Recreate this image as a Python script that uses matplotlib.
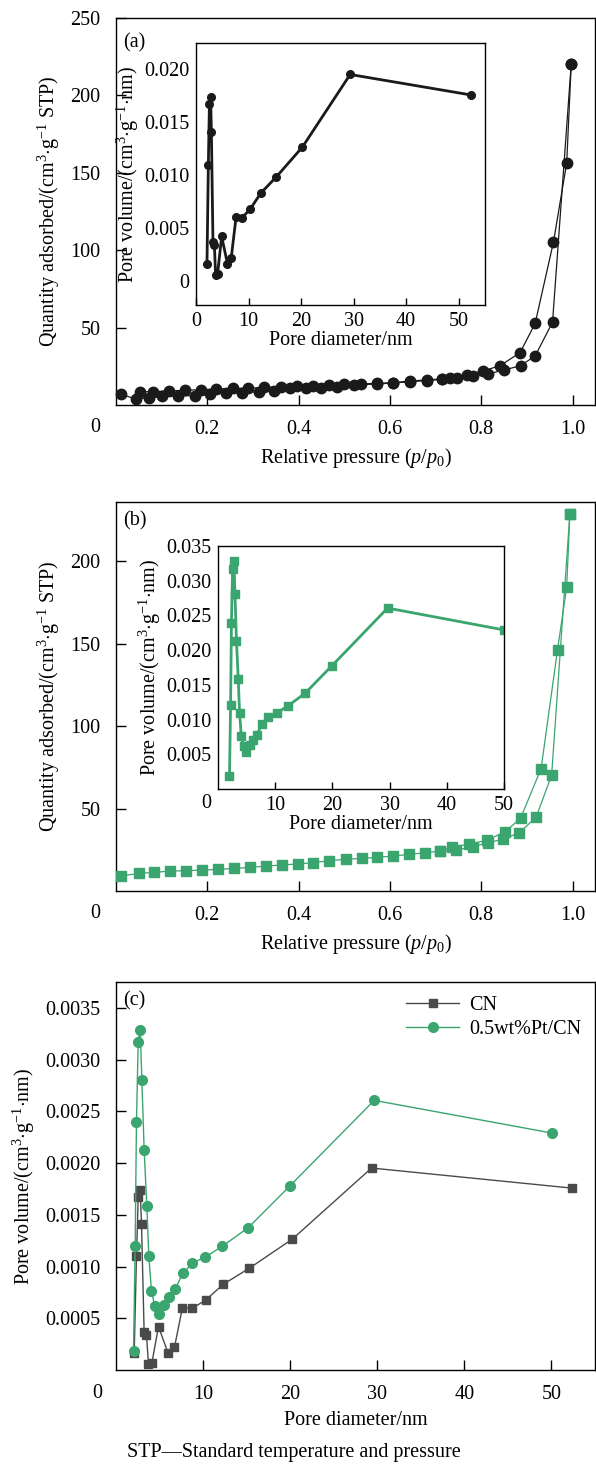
import matplotlib
matplotlib.use('Agg')
import matplotlib.pyplot as plt

plt.rcParams['font.family'] = ['Liberation Serif', 'DejaVu Serif']
plt.rcParams['mathtext.fontset'] = 'custom'
plt.rcParams['mathtext.rm'] = 'Liberation Serif'
plt.rcParams['mathtext.it'] = 'Liberation Serif:italic'
plt.rcParams['axes.linewidth'] = 1.0

GREEN = '#3aa56e'
BLACK = '#1a1a1a'
GREY = '#4a4a4a'

# (a) CN isotherm
a_ads_p = [0.010, 0.044, 0.073, 0.101, 0.135, 0.172, 0.206, 0.241, 0.277, 0.313, 0.346, 0.381,
           0.416, 0.450, 0.485, 0.521, 0.571, 0.607, 0.644, 0.680, 0.713, 0.746, 0.781, 0.815,
           0.850, 0.886, 0.918, 0.956, 0.997]
a_ads_q = [6.9, 3.9, 4.7, 5.6, 6.0, 6.0, 6.9, 7.6, 8.0, 8.6, 9.3, 10.8,
           10.8, 11.2, 11.8, 12.9, 13.6, 14.2, 15.0, 15.8, 16.5, 17.5, 18.8, 20.1,
           22.6, 25.4, 31.7, 53.5, 220.6]
a_des_p = [0.997, 0.987, 0.958, 0.918, 0.885, 0.841, 0.804, 0.768, 0.731, 0.713, 0.680, 0.644,
           0.607, 0.571, 0.536, 0.500, 0.466, 0.431, 0.396, 0.361, 0.325, 0.290, 0.256, 0.220,
           0.186, 0.151, 0.116, 0.080, 0.053]
a_des_q = [220.6, 156.3, 105.2, 52.8, 33.8, 25.4, 22.0, 19.4, 17.7, 16.8, 16.2, 15.5,
           14.4, 14.0, 13.6, 13.4, 12.9, 12.5, 12.3, 11.8, 11.4, 10.8, 10.8, 10.3,
           9.9, 9.5, 9.1, 8.6, 8.6]

# (b) 0.5wt%Pt/CN isotherm
b_ads_p = [0.010, 0.051, 0.084, 0.118, 0.153, 0.189, 0.224, 0.259, 0.293, 0.328, 0.363, 0.399,
           0.432, 0.467, 0.503, 0.539, 0.572, 0.607, 0.642, 0.677, 0.710, 0.745, 0.781, 0.815,
           0.848, 0.883, 0.920, 0.954, 0.994]
b_ads_q = [9.1, 10.7, 11.3, 12.1, 12.3, 12.7, 13.1, 13.7, 14.3, 15.1, 15.8, 16.4,
           17.2, 18.4, 19.2, 19.8, 20.4, 21.2, 22.2, 23.2, 24.2, 24.8, 26.8, 29.3,
           31.5, 35.3, 44.7, 70.3, 228.9]
b_des_p = [0.994, 0.987, 0.967, 0.931, 0.886, 0.852, 0.813, 0.773, 0.735, 0.710]
b_des_q = [228.9, 184.4, 146.5, 74.3, 44.1, 35.9, 30.9, 28.3, 26.8, 24.2]

# pore size distributions
cn_d = [2.09, 2.35, 2.55, 2.78, 2.93, 3.23, 3.50, 3.73, 4.11, 4.88, 5.99, 6.71, 7.63, 8.78,
        10.31, 12.33, 15.31, 20.25, 29.34, 52.35]
cn_v = [0.000161, 0.001097, 0.001671, 0.001735, 0.00141, 0.000365, 0.000339, 0.000055,
        0.000065, 0.000419, 0.000161, 0.000219, 0.000603, 0.000597, 0.000677, 0.000829,
        0.000984, 0.001265, 0.001952, 0.001758]
pt_d = [2.01, 2.20, 2.35, 2.55, 2.78, 2.97, 3.23, 3.54, 3.77, 4.07, 4.46, 4.95, 5.53, 6.06,
        6.79, 7.67, 8.78, 10.23, 12.22, 15.2, 19.94, 29.65, 50.06]
pt_v = [0.000187, 0.001203, 0.002397, 0.003171, 0.00329, 0.002806, 0.002129, 0.001587,
        0.0011, 0.000765, 0.000619, 0.000539, 0.000629, 0.000706, 0.000781, 0.000935,
        0.001035, 0.00109, 0.001197, 0.001377, 0.001777, 0.002606, 0.00229]

# insets (same distributions in the other unit)
ia_v = [0.00161, 0.01097, 0.01671, 0.01735, 0.0141, 0.00365, 0.00339, 0.00055,
        0.00065, 0.00419, 0.00161, 0.00219, 0.00603, 0.00597, 0.00677, 0.00829,
        0.00984, 0.01265, 0.01952, 0.01758]
ib_v = [0.00187, 0.01203, 0.02397, 0.03171, 0.0329, 0.02806, 0.02129, 0.01587,
        0.011, 0.00765, 0.00619, 0.00539, 0.00629, 0.00706, 0.00781, 0.00935,
        0.01035, 0.0109, 0.01197, 0.01377, 0.01777, 0.02606, 0.0229]

W, H = 596, 1466
FS = 14.5


def rect(l, t, r, b):
    return [l / W, 1 - b / H, (r - l) / W, (b - t) / H]


def style(ax, fs=FS, pad=11, ylen=7, xlen=7):
    ax.tick_params(axis='both', direction='in', labelsize=fs, pad=pad, width=1)
    ax.tick_params(axis='y', length=ylen)
    ax.tick_params(axis='x', length=xlen)


fig = plt.figure(figsize=(W / 100, H / 100), dpi=100)

qlabel = r'Quantity adsorbed/(cm$^3$$\cdot$g$^{-1}$ STP)'
vlabel = r'Pore volume/(cm$^3$$\cdot$g$^{-1}$$\cdot$nm)'
plabel = r'Relative pressure ($p$/$p_0$)'

# ---- (a)
ax = fig.add_axes(rect(116, 18, 595, 405))
ax.plot(a_ads_p, a_ads_q, '-o', color=BLACK, lw=0.9, ms=7.5, clip_on=False, zorder=3)
ax.plot(a_des_p, a_des_q, '-o', color=BLACK, lw=0.9, ms=7.5, clip_on=False, zorder=3)
ax.set_xlim(0, 1.049)
ax.set_ylim(0, 250)
ax.set_xticks([0.2, 0.4, 0.6, 0.8, 1.0])
ax.set_xticklabels(['0.2', '0.4', '0.6', '0.8', '1.0'])
ax.set_yticks([50, 100, 150, 200, 250])
style(ax)
ax.set_xlabel(plabel, fontsize=FS, labelpad=5)
ax.set_ylabel(qlabel, fontsize=FS, labelpad=6)
ax.text(0.015, 0.96, '(a)', transform=ax.transAxes, fontsize=FS, va='top')
fig.text(95 / W, 1 - 428 / H, '0', fontsize=FS, ha='center', va='center')

ia = fig.add_axes(rect(196, 43, 485, 305))
ia.plot(cn_d, ia_v, '-o', color=BLACK, lw=2.0, ms=5.5)
ia.set_xlim(0, 55)
ia.set_ylim(-0.0023, 0.0225)
ia.set_xticks([0, 10, 20, 30, 40, 50])
ia.set_yticks([0, 0.005, 0.010, 0.015, 0.020])
ia.set_yticklabels(['0', '0.005', '0.010', '0.015', '0.020'])
style(ia, pad=5, ylen=0, xlen=5)
ia.set_xlabel('Pore diameter/nm', fontsize=FS, labelpad=0)
ia.set_ylabel(vlabel, fontsize=FS, labelpad=2)

# ---- (b)
bx = fig.add_axes(rect(116, 502, 595, 891))
bx.plot(b_ads_p, b_ads_q, '-s', color=GREEN, lw=0.9, ms=6.5, clip_on=False, zorder=3)
bx.plot(b_des_p, b_des_q, '-s', color=GREEN, lw=0.9, ms=6.5, clip_on=False, zorder=3)
bx.set_xlim(0, 1.049)
bx.set_ylim(0, 236)
bx.set_xticks([0.2, 0.4, 0.6, 0.8, 1.0])
bx.set_xticklabels(['0.2', '0.4', '0.6', '0.8', '1.0'])
bx.set_yticks([50, 100, 150, 200])
style(bx)
bx.set_xlabel(plabel, fontsize=FS, labelpad=5)
bx.set_ylabel(qlabel, fontsize=FS, labelpad=6)
bx.text(0.015, 0.975, '(b)', transform=bx.transAxes, fontsize=FS, va='top')
fig.text(95 / W, 1 - 914 / H, '0', fontsize=FS, ha='center', va='center')

ib = fig.add_axes(rect(218, 546, 504, 789))
ib.plot(pt_d, ib_v, '-s', color=GREEN, lw=2.0, ms=5.5)
ib.set_xlim(0, 50)
ib.set_ylim(0, 0.035)
ib.set_xticks([10, 20, 30, 40, 50])
ib.set_yticks([0.005, 0.010, 0.015, 0.020, 0.025, 0.030, 0.035])
ib.set_yticklabels(['0.005', '0.010', '0.015', '0.020', '0.025', '0.030', '0.035'])
style(ib, pad=5, ylen=0, xlen=5)
ib.set_xlabel('Pore diameter/nm', fontsize=FS, labelpad=0)
ib.set_ylabel(vlabel, fontsize=FS, labelpad=2)
fig.text(206 / W, 1 - 804 / H, '0', fontsize=FS, ha='center', va='center')

# ---- (c)
cx = fig.add_axes(rect(116, 982, 595, 1370))
cx.plot(cn_d, cn_v, '-s', color=GREY, mfc=GREY, lw=1.0, ms=6, label='CN')
cx.plot(pt_d, pt_v, '-o', color=GREEN, lw=1.0, ms=7, label='0.5wt%Pt/CN')
cx.set_xlim(0, 55)
cx.set_ylim(0, 0.00375)
cx.set_xticks([10, 20, 30, 40, 50])
cx.set_yticks([0.0005, 0.0010, 0.0015, 0.0020, 0.0025, 0.0030, 0.0035])
cx.set_yticklabels(['0.0005', '0.0010', '0.0015', '0.0020', '0.0025', '0.0030', '0.0035'])
style(cx)
cx.set_xlabel('Pore diameter/nm', fontsize=FS, labelpad=5)
cx.set_ylabel(vlabel, fontsize=FS, labelpad=6)
cx.text(0.015, 0.975, '(c)', transform=cx.transAxes, fontsize=FS, va='top')
fig.text(97 / W, 1 - 1394 / H, '0', fontsize=FS, ha='center', va='center')
cx.legend(loc='upper right', frameon=False, fontsize=FS, handlelength=2.6,
          borderaxespad=0.3, labelspacing=0.25, handletextpad=0.5)

fig.text(294 / W, 1 - 1452 / H, 'STP\u2014Standard temperature and pressure',
         fontsize=FS, ha='center', va='center')

fig.savefig('out.png', dpi=100)
